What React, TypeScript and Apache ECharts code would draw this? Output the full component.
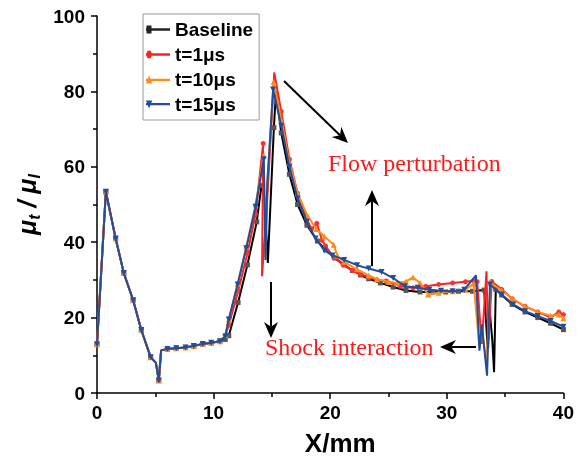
import React, { useEffect, useRef } from "react";
import * as echarts from "echarts";

// ---- Data ----
const BASE_X = [0, 0.76, 1.6, 2.3, 3.1, 3.8, 4.6, 5.05, 5.3, 5.5, 6.04, 6.8, 7.6, 8.3, 9.07, 9.8, 10.55,
  11.0, 11.3, 12.1, 12.9, 13.7, 14.1, 14.35, 14.65, 15.17, 15.35, 15.8, 16.5, 17.2, 18.0, 18.9, 19.6, 20.4,
  21.2, 21.9, 22.6, 23.3, 24.3, 25.4, 26.5, 27.7, 28.8, 29.9, 31.0, 32.2, 33.2, 33.5, 33.7, 33.9, 34.05, 34.2,
  34.7, 35.6, 36.7, 37.8, 38.9, 40];
const BASE_Y = [12.9, 53.4, 41, 31.8, 24.6, 16.7, 9.5, 8.0, 3.3, 11.3, 11.7, 11.9, 12.1, 12.5, 13.0, 13.3, 13.7,
  14.2, 15.2, 24, 34, 45.4, 55, 52, 34.5, 70.4, 80, 69, 58, 50, 44.5, 40.3, 38, 35.8,
  34, 32.5, 31.3, 30.3, 29.2, 28.1, 27.2, 26.8, 26.8, 26.8, 27, 27, 27.3, 12, 21, 14, 5.5, 27.5,
  26, 23.5, 21.5, 20, 18.5, 16.8];

const T1_X = [0, 0.76, 1.6, 2.3, 3.1, 3.8, 4.6, 5.05, 5.3, 5.5, 6.04, 6.8, 7.6, 8.3, 9.07, 9.8, 10.55,
  11.0, 11.3, 12.1, 12.9, 13.6, 14.25, 14.15, 14.5, 15.2, 15.8, 16.5, 17.2, 18.0, 18.4, 18.85, 19.3, 19.6, 20.3,
  21.1, 21.9, 22.6, 23.3, 24.0, 24.8, 26.0, 27.1, 28.2, 29.3, 30.5, 31.6, 32.3, 32.6, 33.0, 33.4, 33.55, 33.85,
  34.7, 35.6, 36.7, 37.8, 38.9, 39.6, 40];
const T1_Y = [12.9, 53.4, 41, 31.8, 24.6, 16.7, 9.5, 8.0, 3.3, 11.3, 11.7, 11.9, 12.1, 12.5, 13.0, 13.3, 13.7,
  15.3, 18, 27, 37, 47.5, 66.2, 31, 46, 85, 74.7, 62, 53, 46, 43.5, 45, 40.5, 39, 36,
  34, 32.5, 31.5, 30.7, 30, 29.7, 28.3, 27.9, 28.3, 28.8, 29.2, 29.5, 29.8, 29.5, 13, 32.3, 12, 29.6,
  27.5, 25, 23, 21.5, 20, 21.5, 20.8];

const T10_X = [0, 0.76, 1.6, 2.3, 3.1, 3.8, 4.6, 5.05, 5.3, 5.5, 6.04, 6.8, 7.6, 8.3, 9.07, 9.8, 10.55,
  11.0, 11.3, 12.06, 12.8, 13.6, 14.3, 14.45, 14.6, 15.15, 15.8, 16.5, 17.2, 18.05, 18.8, 19.5, 20.3, 20.6,
  21.2, 22.3, 23.3, 24.0, 25.0, 25.7, 26.5, 27.1, 27.7, 28.4, 29.3, 30.5, 31.6, 32.3, 32.8, 33.0, 33.4, 33.75,
  34.7, 35.6, 36.7, 37.8, 38.9, 39.6, 40];
const T10_Y = [12.9, 53.4, 41, 31.8, 24.6, 16.7, 9.5, 8.0, 3.3, 11.3, 11.7, 11.9, 12.1, 12.5, 13.0, 13.3, 13.7,
  15.3, 19.5, 29, 38.8, 50, 63, 36, 56, 82.5, 72.5, 61, 53, 47, 43.5, 41.5, 39.3, 36.5,
  34.8, 32.8, 31.2, 30.2, 29.5, 29.2, 29.6, 30.7, 29.2, 26.1, 26.6, 27, 27.4, 29, 12, 17, 8, 29.2,
  27.2, 25, 23, 21.5, 20.5, 20.8, 19.8];

const T15_X = [0, 0.76, 1.6, 2.3, 3.1, 3.8, 4.6, 5.05, 5.3, 5.5, 6.04, 6.8, 7.6, 8.3, 9.07, 9.8, 10.55,
  11.0, 11.3, 12.06, 12.8, 13.6, 14.3, 14.45, 14.6, 15.1, 15.8, 16.5, 17.2, 18.0, 18.75, 19.5, 20.2,
  21.2, 22.3, 23.3, 24.4, 25.4, 26.4, 27.5, 28.5, 29.5, 30.5, 31.5, 32.5, 32.8, 33.0, 33.45, 33.7,
  34.7, 35.7, 36.7, 37.8, 38.9, 40];
const T15_Y = [12.9, 53.4, 41, 31.8, 24.6, 16.7, 9.5, 8.0, 3.3, 11.3, 11.7, 11.9, 12.1, 12.5, 13.0, 13.3, 13.7,
  15, 19.5, 28.8, 38.4, 49.4, 62, 35.3, 55, 80.5, 70.9, 60, 51.6, 45.4, 41, 37.8, 36.5,
  35.3, 33.9, 33, 32.1, 30.5, 28.3, 27.9, 27.4, 27.1, 27, 27.4, 31.2, 11.2, 18.2, 4.6, 28.8,
  26.1, 23.5, 21.7, 20.4, 19.1, 17.6];

// indices of points drawn without a marker (shelf / spike extremes)
const BASE_NO_MARK = [7, 9, 23, 24, 26, 47, 48, 49, 50];
const T1_NO_MARK = [7, 9, 23, 24, 25, 49, 50, 51];
const T10_NO_MARK = [7, 9, 23, 24, 48, 49, 50];
const T15_NO_MARK = [7, 9, 23, 24, 44, 45, 46, 47];

const SERIES_NAMES = ["Baseline", "t=1μs", "t=10μs", "t=15μs"];
const X_TICKS = { min: 0, max: 40, interval: 10 };
const Y_TICKS = { min: 0, max: 100, interval: 20 };
const ANNOT_FLOW = "Flow perturbation";
const ANNOT_SHOCK = "Shock interaction";

const build = (xs: number[], ys: number[], noMark: number[]) =>
  xs.map((x, i) => (noMark.includes(i) ? { value: [x, ys[i]], symbol: "none" } : { value: [x, ys[i]] }));

// legend icons: line with the marker at its left end (24 x 8 box)
const LEGEND_ICONS = [
  "path://M0,3.2 H24 V4.8 H0 Z M0.5,1.5 H5.5 V6.5 H0.5 Z",
  "path://M0,3.2 H24 V4.8 H0 Z M0.5,4 A2.6,2.6 0 1,1 5.7,4 A2.6,2.6 0 1,1 0.5,4 Z",
  "path://M0,3.2 H24 V4.8 H0 Z M3.1,0.8 L6.2,6.6 L0,6.6 Z",
  "path://M0,3.2 H24 V4.8 H0 Z M0,1.4 L6.2,1.4 L3.1,7.2 Z",
];

function arrow(x1: number, y1: number, x2: number, y2: number) {
  const len = Math.hypot(x2 - x1, y2 - y1);
  const ux = (x2 - x1) / len, uy = (y2 - y1) / len;
  const hl = 16, hw = 7;
  const bx = x2 - ux * hl, by = y2 - uy * hl;
  const nx = -uy, ny = ux;
  const notchX = x2 - ux * hl * 0.7, notchY = y2 - uy * hl * 0.7;
  return [
    { type: "line", shape: { x1, y1, x2: notchX, y2: notchY }, style: { stroke: "#000", lineWidth: 2 } },
    {
      type: "polygon",
      shape: { points: [[x2, y2], [bx + nx * hw, by + ny * hw], [notchX, notchY], [bx - nx * hw, by - ny * hw]] },
      style: { fill: "#000" },
    },
  ];
}

export default function App() {
  const ref = useRef<HTMLDivElement>(null);
  useEffect(() => {
    if (!ref.current) return;
    const chart = echarts.init(ref.current, undefined, { renderer: "svg" });
    const font = "'Liberation Sans', Arial, sans-serif";
    const colors = ["#000000", "#FF2020", "#FF8C1A", "#1F4E9E"];
    const symColors = ["#555555", "#FF3030", "#FF8C1A", "#1F4E9E"];
    const symbols = ["rect", "circle", "triangle", "triangle"];
    const rot = [0, 0, 0, 180];
    const datasets = [
      build(BASE_X, BASE_Y, BASE_NO_MARK),
      build(T1_X, T1_Y, T1_NO_MARK),
      build(T10_X, T10_Y, T10_NO_MARK),
      build(T15_X, T15_Y, T15_NO_MARK),
    ];
    chart.setOption({
      animation: false,
      grid: { left: 97, right: 8, top: 16, bottom: 65, containLabel: false },
      legend: {
        orient: "vertical",
        left: 143,
        top: 14,
        padding: [6, 6, 6, 3],
        itemGap: 6,
        itemWidth: 24,
        itemHeight: 8,
        borderColor: "#999",
        borderWidth: 1,
        symbolKeepAspect: false,
        itemStyle: { borderWidth: 0 },
        textStyle: { fontFamily: font, fontWeight: "bold", fontSize: 19, color: "#000" },
        data: SERIES_NAMES.map((name, i) => ({
          name,
          icon: LEGEND_ICONS[i],
          itemStyle: { color: i === 0 ? "#222" : colors[i], borderWidth: 0 },
        })),
      },
      xAxis: {
        type: "value",
        min: X_TICKS.min,
        max: X_TICKS.max,
        interval: X_TICKS.interval,
        name: "X/mm",
        nameLocation: "middle",
        nameGap: 37,
        nameTextStyle: { fontFamily: font, fontWeight: "bold", fontSize: 26, color: "#000", padding: [0, 0, 0, 20] },
        axisLine: { lineStyle: { color: "#000", width: 1.5 } },
        axisTick: { length: 6, lineStyle: { width: 1.5 } },
        minorTick: { show: true, splitNumber: 2, length: 4, lineStyle: { color: "#000", width: 1.5 } },
        splitLine: { show: false },
        axisLabel: { fontFamily: font, fontWeight: "bold", fontSize: 19, color: "#000", margin: 10 },
      },
      yAxis: {
        type: "value",
        min: Y_TICKS.min,
        max: Y_TICKS.max,
        interval: Y_TICKS.interval,
        name: "{m|μ}{s|t}{m| / μ}{s|l}",
        nameLocation: "middle",
        nameGap: 50,
        nameTextStyle: {
          rich: {
            m: { fontFamily: font, fontWeight: "bold", fontStyle: "italic", fontSize: 25, color: "#000", lineHeight: 30 },
            s: { fontFamily: font, fontWeight: "bold", fontStyle: "italic", fontSize: 16, color: "#000", verticalAlign: "bottom", lineHeight: 22 },
          },
        },
        axisLine: { show: true, lineStyle: { color: "#000", width: 1.5 } },
        axisTick: { show: true, length: 6, lineStyle: { width: 1.5 } },
        minorTick: { show: true, splitNumber: 2, length: 4, lineStyle: { color: "#000", width: 1.5 } },
        splitLine: { show: false },
        axisLabel: { fontFamily: font, fontWeight: "bold", fontSize: 19, color: "#000", margin: 12 },
      },
      series: SERIES_NAMES.map((name, i) => ({
        name,
        type: "line",
        data: datasets[i],
        showSymbol: true,
        symbol: symbols[i],
        symbolRotate: rot[i],
        symbolSize: i === 0 ? 5 : i === 1 ? 5 : 6,
        lineStyle: { color: colors[i], width: 2 },
        itemStyle: { color: symColors[i] },
        z: 2 + i,
      })),
      graphic: [
        {
          type: "text",
          left: 328,
          top: 151,
          style: { text: ANNOT_FLOW, font: "24px 'Liberation Serif', serif", fill: "#FF1A1A" },
        },
        {
          type: "text",
          left: 265,
          top: 335,
          style: { text: ANNOT_SHOCK, font: "24px 'Liberation Serif', serif", fill: "#FF1A1A" },
        },
        ...arrow(284, 81, 348, 143),
        ...arrow(372, 266, 372, 190),
        ...arrow(271, 282, 271, 338),
        ...arrow(476, 347, 440, 347),
      ],
    });
    return () => chart.dispose();
  }, []);
  return <div ref={ref} style={{ position: "fixed", left: 0, top: 0, width: 577, height: 461 }} />;
}
